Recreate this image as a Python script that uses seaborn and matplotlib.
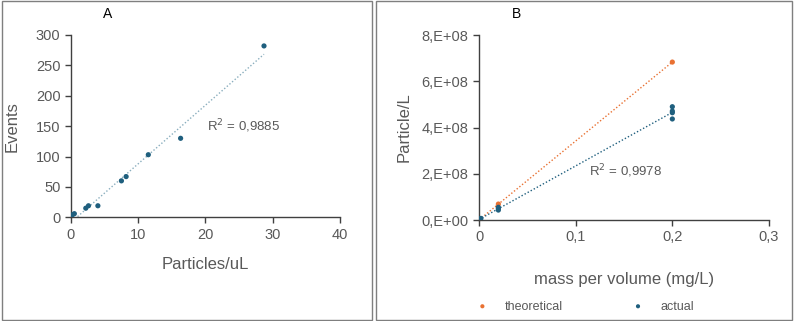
import matplotlib
matplotlib.use("Agg")
import matplotlib.pyplot as plt
import seaborn as sns
import pandas as pd
from matplotlib.patches import Rectangle
from matplotlib.ticker import FuncFormatter

# panel A: events vs particle concentration
particles_ul = [0.2, 0.5, 2.2, 2.6, 4.0, 7.5, 8.2, 11.5, 16.3, 28.7]
events = [4, 6, 15, 19, 19, 60, 67, 103, 130, 282]
r2_a = "R$^2$ = 0,9885"

# panel B: particle number vs mass concentration
theo_mass = [0.0, 0.02, 0.2]
theo_particles = [0.0, 0.69e8, 6.83e8]
act_mass = [0.0, 0.001, 0.002, 0.02, 0.02, 0.02, 0.2, 0.2, 0.2, 0.2]
act_particles = [0.0, 5e6, 7e6, 4.3e7, 5.0e7, 5.5e7, 4.37e8, 4.64e8, 4.71e8, 4.9e8]
r2_b = "R$^2$ = 0,9978"

sns.set_style("white")
plt.rcParams["font.family"] = ["Liberation Sans", "DejaVu Sans"]

blue = "#1f5f7e"
orange = "#e97132"
grey_txt = "#595959"
axis_col = "#404040"

df_a = pd.DataFrame({"x": particles_ul, "y": events})
df_t = pd.DataFrame({"x": theo_mass, "y": theo_particles})
df_r = pd.DataFrame({"x": act_mass, "y": act_particles})

fig = plt.figure(figsize=(7.94, 3.21), dpi=100)
ax1 = fig.add_axes([0.0894, 0.323, 0.3388, 0.568])
ax2 = fig.add_axes([0.6033, 0.3146, 0.3652, 0.5763])

# panel frames
fig.patches.append(Rectangle((0.002, 0.003), 0.467, 0.994, transform=fig.transFigure,
                             fill=False, edgecolor="#7f7f7f", lw=1))
fig.patches.append(Rectangle((0.473, 0.003), 0.525, 0.994, transform=fig.transFigure,
                             fill=False, edgecolor="#7f7f7f", lw=1))

# ---- A ----
sns.regplot(data=df_a, x="x", y="y", ax=ax1, ci=None, scatter=False, truncate=True,
            line_kws=dict(color="#8aaebe", lw=1, ls=(0, (1, 1.5))))
sns.scatterplot(data=df_a, x="x", y="y", ax=ax1, color=blue, s=14, edgecolor="none", zorder=3)
ax1.set_xlim(0, 40)
ax1.set_ylim(0, 300)
ax1.set_xticks([0, 10, 20, 30, 40])
ax1.set_yticks([0, 50, 100, 150, 200, 250, 300])
ax1.set_xlabel("Particles/uL", fontsize=12, color=grey_txt, labelpad=11)
ax1.set_ylabel("Events", fontsize=12, color=grey_txt, labelpad=12)
ax1.text(20.2, 150, r2_a, fontsize=9.5, color=grey_txt, va="center")

# ---- B ----
sns.regplot(data=df_t, x="x", y="y", ax=ax2, ci=None, scatter=False, truncate=True,
            line_kws=dict(color=orange, lw=1, ls=(0, (1, 1.5))))
sns.regplot(data=df_r, x="x", y="y", ax=ax2, ci=None, scatter=False, truncate=True,
            line_kws=dict(color=blue, lw=1, ls=(0, (1, 1.5))))
sns.scatterplot(data=df_t, x="x", y="y", ax=ax2, color=orange, s=14, edgecolor="none",
                zorder=3, label="theoretical")
sns.scatterplot(data=df_r, x="x", y="y", ax=ax2, color=blue, s=14, edgecolor="none",
                zorder=3, label="actual")
ax2.set_xlim(0, 0.3)
ax2.set_ylim(0, 8e8)
ax2.set_xticks([0, 0.1, 0.2, 0.3])
ax2.set_yticks([0, 2e8, 4e8, 6e8, 8e8])
ax2.xaxis.set_major_formatter(FuncFormatter(lambda v, p: "0" if v == 0 else f"{v:.1f}".replace(".", ",")))
ax2.yaxis.set_major_formatter(FuncFormatter(lambda v, p: "0,E+00" if v == 0 else f"{v/1e8:.0f},E+08"))
ax2.set_xlabel("mass per volume (mg/L)", fontsize=12, color=grey_txt, labelpad=20)
ax2.set_ylabel("Particle/L", fontsize=12, color=grey_txt, labelpad=7)
ax2.text(0.114, 2.1e8, r2_b, fontsize=9.5, color=grey_txt, va="center")
ax2.legend(loc="center", bbox_to_anchor=(0.733, 0.045), bbox_transform=fig.transFigure,
           ncol=2, frameon=False, fontsize=9, markerscale=0.8, handletextpad=0.8,
           columnspacing=5, labelcolor=grey_txt)

for ax in (ax1, ax2):
    sns.despine(ax=ax)
    for s in ("left", "bottom"):
        ax.spines[s].set_color(axis_col)
        ax.spines[s].set_linewidth(1)
    ax.tick_params(axis="both", which="major", direction="out", length=4, width=1,
                   color=axis_col, labelsize=10.5, labelcolor=grey_txt, left=True, bottom=True)

fig.text(0.135, 0.955, "A", fontsize=10, color="black", ha="center", va="center")
fig.text(0.651, 0.955, "B", fontsize=10, color="black", ha="center", va="center")

fig.savefig("out.png", dpi=100)
